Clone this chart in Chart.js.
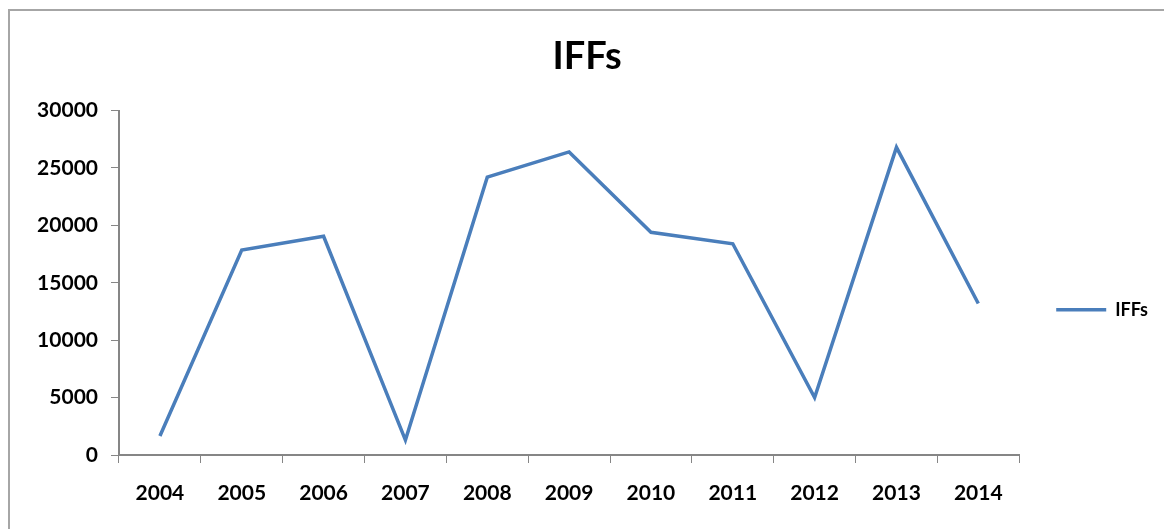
<!DOCTYPE html>
<html>
<head>
<meta charset="utf-8">
<title>IFFs</title>
<script src="https://cdn.jsdelivr.net/npm/chart.js@4.4.1/dist/chart.umd.min.js"></script>
<style>
  html, body { margin: 0; padding: 0; background: #fff; overflow: hidden; }
  #wrap { position: relative; width: 1164px; height: 529px; }
  #frame {
    position: absolute; left: 8px; top: 9px; right: -10px; bottom: -10px;
    border-left: 2px solid #a6a6a6; border-top: 2px solid #a6a6a6;
    pointer-events: none;
  }
</style>
</head>
<body>
<div id="wrap">
  <canvas id="iffChart" width="1164" height="529"></canvas>
  <div id="frame"></div>
</div>
<script>
const years = ["2004", "2005", "2006", "2007", "2008", "2009", "2010", "2011", "2012", "2013", "2014"];
const iffValues = [1650, 17850, 19050, 1300, 24200, 26400, 19400, 18400, 5000, 26800, 13200];
const yMin = 0;
const yMax = 30000;
const yStep = 5000;

const axisColor = "#868686";
const lineBlue = "#4a7ebb";
const labelFont = { family: "Lato", size: 21, weight: "bold" };

new Chart(document.getElementById("iffChart"), {
  type: "line",
  data: {
    labels: years,
    datasets: [
      {
        label: "IFFs",
        data: iffValues,
        borderColor: lineBlue,
        backgroundColor: lineBlue,
        borderWidth: 3.5,
        pointRadius: 0,
        pointStyle: "line",
        tension: 0,
        fill: false
      }
    ]
  },
  options: {
    responsive: false,
    animation: false,
    // left padding keeps the title centred on the wider frame
    layout: { padding: { left: 16, right: 6, top: 0, bottom: 0 } },
    plugins: {
      title: {
        display: true,
        text: "IFFs",
        color: "#000",
        font: { family: "Lato", size: 38, weight: "bold" },
        padding: { top: 34, bottom: 31 }
      },
      legend: {
        position: "right",
        // empty legend title used only as vertical spacing
        title: { display: true, text: "", padding: 38, font: { size: 12 } },
        labels: {
          color: "#000",
          font: { family: "Lato", size: 18, weight: "bold" },
          usePointStyle: true,
          pointStyleWidth: 50,
          padding: 37
        }
      },
      tooltip: { enabled: false }
    },
    scales: {
      x: {
        offset: true,
        grid: {
          offset: true,
          drawOnChartArea: false,
          drawTicks: true,
          tickLength: 8,
          color: axisColor
        },
        border: { color: axisColor, width: 2 },
        ticks: { color: "#000", font: labelFont, padding: 18, maxRotation: 0 },
        afterFit: scale => { scale.height = 74; }
      },
      y: {
        min: yMin,
        max: yMax,
        grid: {
          drawOnChartArea: false,
          drawTicks: true,
          tickLength: 8,
          color: axisColor
        },
        border: { color: axisColor, width: 2 },
        ticks: {
          stepSize: yStep,
          color: "#000",
          font: labelFont,
          padding: 13,
          callback: value => String(value)
        },
        afterFit: scale => { scale.width = 103; }
      }
    }
  }
});
</script>
</body>
</html>
